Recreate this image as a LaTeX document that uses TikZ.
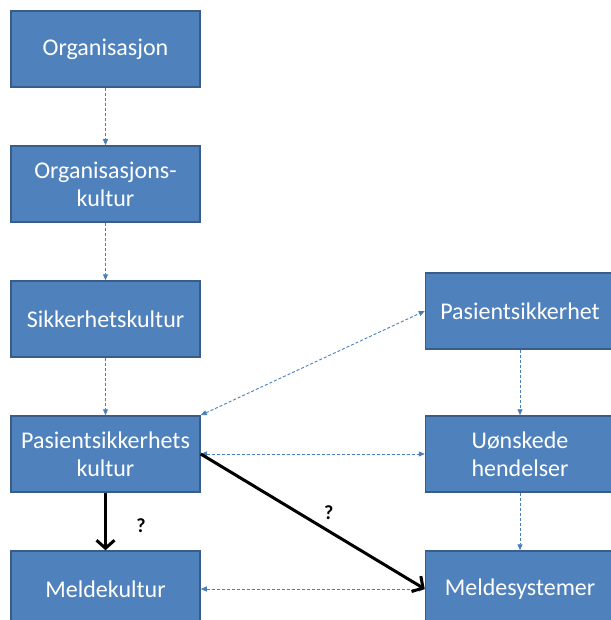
\documentclass[tikz,border=0pt]{standalone}
\usepackage{fontspec}
\setmainfont{Carlito}
\usetikzlibrary{arrows.meta}
\definecolor{boxblue}{HTML}{4F81BD}
\definecolor{boxedge}{HTML}{385D8A}
\definecolor{linkblue}{HTML}{4A7EBB}
\tikzset{
  box/.style={draw=boxedge, line width=1.5pt, fill=boxblue, text=white,
    minimum width=189pt, minimum height=76pt, inner sep=0pt, align=center,
    font=\fontsize{24}{28}\selectfont},
  link/.style={linkblue, line width=0.9pt, dash pattern=on 3pt off 2pt,
    -{Triangle[length=6pt,width=5pt]}},
  twolink/.style={link, {Triangle[length=6pt,width=5pt]}-{Triangle[length=6pt,width=5pt]}},
  strong/.style={black, line width=3pt, -{Straight Barb[length=8pt,width=18pt]}},
  qlabel/.style={font=\bfseries\fontsize{20}{24}\selectfont}
}
\begin{document}
\begin{tikzpicture}[x=1pt,y=-1pt]
  \useasboundingbox (0,0) rectangle (610,620);
  % left column
  \node[box] (org) at (105.5,49) {Organisasjon};
  \node[box] (orgkult) at (105.5,184) {Organisasjons-\\kultur};
  \node[box] (sikkult) at (105.5,319) {Sikkerhetskultur};
  \node[box] (paskult) at (105.5,454) {Pasientsikkerhets\\kultur};
  \node[box] (meldkult) at (105.5,589) {Meldekultur};
  % right column
  \node[box] (pas) at (520,311) {Pasientsikkerhet};
  \node[box] (uons) at (520,454) {Uønskede\\hendelser};
  \node[box] (meldsys) at (520,589) {Meldesystemer};

  \foreach \a/\b in {org/orgkult, orgkult/sikkult, sikkult/paskult, pas/uons, uons/meldsys}
    \draw[link] (\a) -- (\b);
  \draw[twolink] (paskult.north east) -- (pas.west);
  \draw[twolink] (paskult) -- (uons);
  \draw[twolink] (meldkult) -- (meldsys);

  \draw[strong] (paskult) -- (meldkult) node[midway, right=26pt, yshift=-4pt, qlabel] {?};
  \draw[strong] (paskult.east) -- (meldsys.west) node[midway, xshift=16pt, yshift=9pt, qlabel] {?};
\end{tikzpicture}
\end{document}
